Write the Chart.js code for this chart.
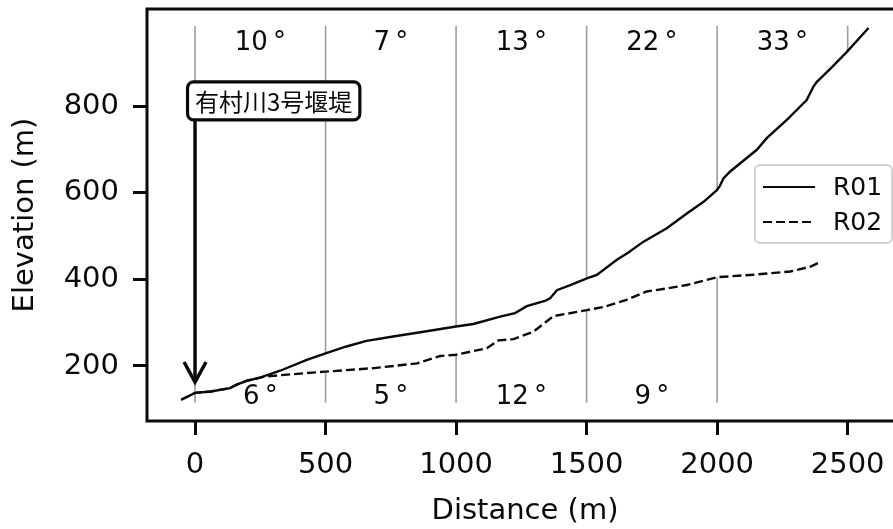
<!DOCTYPE html>
<html>
<head>
<meta charset="utf-8">
<script src="https://cdn.jsdelivr.net/npm/chart.js@4.4.1/dist/chart.umd.min.js"></script>
<style>
  html, body { margin: 0; padding: 0; background: #fff; overflow: hidden; }
  #wrap { width: 915px; height: 529px; }
</style>
</head>
<body>
<div id="wrap"><canvas id="profile" width="915" height="529"></canvas></div>
<script>
// Longitudinal profiles: distance along the channel (m) and elevation (m)
const r01Distance = [-53, 0, 60, 134, 160, 199, 249, 326, 428, 500, 580, 657, 759, 875, 1000, 1066, 1169, 1226, 1271, 1340, 1360, 1386, 1440, 1501, 1539, 1616, 1660, 1718, 1807, 1884, 1948, 1999, 2010, 2024, 2050, 2152, 2190, 2270, 2343, 2369, 2382, 2440, 2497, 2580];
const r01Elevation = [122, 138, 141, 149, 157, 166, 173, 189, 214, 229, 245, 258, 268, 279, 291, 297, 314, 322, 338, 350, 356, 375, 387, 402, 410, 445, 462, 487, 518, 552, 579, 606, 615, 633, 649, 699, 726, 770, 814, 845, 856, 890, 925, 980];

const r02Distance = [-53, 0, 60, 134, 160, 199, 249, 262, 330, 500, 684, 850, 939, 1000, 1118, 1162, 1220, 1296, 1373, 1501, 1564, 1650, 1730, 1807, 1884, 2001, 2126, 2280, 2356, 2392];
const r02Elevation = [122, 138, 141, 149, 157, 166, 173, 175, 179, 187, 195, 206, 223, 226, 241, 259, 262, 279, 315, 329, 336, 352, 372, 379, 387, 405, 410, 418, 429, 439];

// Reach boundaries and the mean gradient (degrees) of each reach
const sectionEdges = [0, 500, 1000, 1500, 2000, 2500];
const r01Slopes = ['10', '7', '13', '22', '33'];
const r02Slopes = ['6', '5', '12', '9'];

const xTicks = [0, 500, 1000, 1500, 2000, 2500];
const yTicks = [200, 400, 600, 800];

const damName = '有村川3号堰堤';
const damPoint = { x: 0, y: 163 };     // arrow tip
const damLabelAt = { x: 0, y: 812 };   // label anchor (left edge, vertical middle)

// vertical extent of the reach guide lines and the elevation of the slope labels
const guideTop = 985, guideBottom = 115;
const upperLabelElev = 944, lowerLabelElev = 128;

const INK = '#0a0a0a';
const FONT = '"DejaVu Sans", sans-serif';

function interp(xs, ys, x) {
  if (x < xs[0] || x > xs[xs.length - 1]) return null;
  for (let i = 1; i < xs.length; i++) {
    if (x <= xs[i]) {
      const t = (x - xs[i - 1]) / (xs[i] - xs[i - 1]);
      return ys[i - 1] + t * (ys[i] - ys[i - 1]);
    }
  }
  return null;
}

const profileDecor = {
  id: 'profileDecor',
  beforeDatasetsDraw(chart) {
    const { ctx, scales: { x, y } } = chart;
    ctx.save();
    ctx.strokeStyle = '#9c9c9c';
    ctx.lineWidth = 1.6;
    sectionEdges.forEach(d => {
      const px = x.getPixelForValue(d);
      const e1 = interp(r01Distance, r01Elevation, d);
      if (e1 !== null) {
        ctx.beginPath();
        ctx.moveTo(px, y.getPixelForValue(guideTop));
        ctx.lineTo(px, y.getPixelForValue(e1));
        ctx.stroke();
      }
      const e2 = interp(r02Distance, r02Elevation, d);
      if (e2 !== null) {
        ctx.beginPath();
        ctx.moveTo(px, y.getPixelForValue(guideBottom));
        ctx.lineTo(px, y.getPixelForValue(e2));
        ctx.stroke();
      }
    });
    ctx.restore();
  },
  afterDatasetsDraw(chart) {
    const { ctx, chartArea: ca, scales: { x, y } } = chart;
    ctx.save();

    // reach gradients
    ctx.fillStyle = INK;
    ctx.font = '26px ' + FONT;
    ctx.textAlign = 'center';
    ctx.textBaseline = 'middle';
    r01Slopes.forEach((s, i) => {
      const mid = (sectionEdges[i] + sectionEdges[i + 1]) / 2;
      ctx.fillText(s + '\u2009°', x.getPixelForValue(mid), y.getPixelForValue(upperLabelElev));
    });
    r02Slopes.forEach((s, i) => {
      const mid = (sectionEdges[i] + sectionEdges[i + 1]) / 2;
      ctx.fillText(s + '\u2009°', x.getPixelForValue(mid), y.getPixelForValue(lowerLabelElev));
    });

    // dam annotation box and arrow
    ctx.font = '24px "Noto Sans CJK JP", sans-serif';
    ctx.textAlign = 'left';
    const tw = ctx.measureText(damName).width;
    const tx = x.getPixelForValue(damLabelAt.x);
    const ty = y.getPixelForValue(damLabelAt.y);
    const bx = tx - 7.5, bw = tw + 15, bh = 38, by = ty - bh / 2;
    const ax = x.getPixelForValue(damPoint.x);
    const tipY = y.getPixelForValue(damPoint.y);

    ctx.strokeStyle = INK;
    ctx.lineWidth = 3.5;
    ctx.beginPath();
    ctx.moveTo(ax, by + bh);
    ctx.lineTo(ax, tipY - 1);
    ctx.stroke();
    ctx.lineJoin = 'miter';
    ctx.beginPath();
    ctx.moveTo(ax - 11, tipY - 20);
    ctx.lineTo(ax, tipY);
    ctx.lineTo(ax + 11, tipY - 20);
    ctx.stroke();

    ctx.beginPath();
    ctx.roundRect(bx, by, bw, bh, 6);
    ctx.fillStyle = '#fff';
    ctx.fill();
    ctx.lineWidth = 3.2;
    ctx.stroke();
    ctx.fillStyle = INK;
    ctx.textBaseline = 'middle';
    ctx.fillText(damName, tx, ty + 1);

    // legend
    const lw = 137, lh = 78;
    const lx = ca.right - 11 - lw, ly = ca.top + 156;
    ctx.beginPath();
    ctx.roundRect(lx, ly, lw, lh, 5);
    ctx.fillStyle = 'rgba(255,255,255,0.85)';
    ctx.fill();
    ctx.strokeStyle = '#d2d2d2';
    ctx.lineWidth = 2;
    ctx.stroke();
    chart.data.datasets.forEach((ds, i) => {
      const cy = ly + 22 + i * 35;
      ctx.strokeStyle = INK;
      ctx.lineWidth = 2;
      ctx.setLineDash(ds.borderDash || []);
      ctx.beginPath();
      ctx.moveTo(lx + 8, cy);
      ctx.lineTo(lx + 60, cy);
      ctx.stroke();
      ctx.setLineDash([]);
      ctx.fillStyle = INK;
      ctx.font = '25px ' + FONT;
      ctx.textAlign = 'left';
      ctx.fillText(ds.label, lx + 78, cy + 1);
    });

    // axes frame
    ctx.strokeStyle = INK;
    ctx.lineWidth = 3;
    ctx.strokeRect(ca.left, ca.top, ca.right - ca.left, ca.bottom - ca.top);
    ctx.restore();
  }
};

new Chart(document.getElementById('profile'), {
  type: 'scatter',
  data: {
    datasets: [
      {
        label: 'R01',
        data: r01Distance.map((d, i) => ({ x: d, y: r01Elevation[i] })),
        showLine: true, borderColor: INK, borderWidth: 2.4, pointRadius: 0, tension: 0
      },
      {
        label: 'R02',
        data: r02Distance.map((d, i) => ({ x: d, y: r02Elevation[i] })),
        showLine: true, borderColor: INK, borderWidth: 2.4, borderDash: [9, 4], pointRadius: 0, tension: 0
      }
    ]
  },
  options: {
    responsive: false,
    animation: false,
    devicePixelRatio: 1,
    layout: { padding: { left: 0, top: 9, right: 12, bottom: 0 } },
    plugins: { legend: { display: false }, tooltip: { enabled: false } },
    scales: {
      x: {
        type: 'linear', min: -184, max: 2712,
        afterBuildTicks: s => { s.ticks = xTicks.map(v => ({ value: v })); },
        afterFit: s => { s.height = 108; s.paddingLeft = 0; s.paddingRight = 0; },
        grid: { drawOnChartArea: false, drawTicks: true, tickLength: 14, tickWidth: 3, tickColor: INK },
        border: { display: false },
        ticks: { font: { family: FONT, size: 29 }, color: INK, padding: 13, maxRotation: 0, autoSkip: false, callback: v => String(v) },
        title: { display: true, text: 'Distance (m)', font: { family: FONT, size: 29 }, color: INK, padding: { top: 0, bottom: 0 } }
      },
      y: {
        type: 'linear', min: 73, max: 1024,
        afterBuildTicks: s => { s.ticks = yTicks.map(v => ({ value: v })); },
        afterFit: s => { s.width = 147; s.paddingTop = 0; s.paddingBottom = 0; },
        grid: { drawOnChartArea: false, drawTicks: true, tickLength: 14, tickWidth: 3, tickColor: INK },
        border: { display: false },
        ticks: { font: { family: FONT, size: 29 }, color: INK, padding: 14, autoSkip: false, callback: v => String(v) },
        title: { display: true, text: 'Elevation (m)', font: { family: FONT, size: 29 }, color: INK, padding: { top: 8, bottom: 0 } }
      }
    }
  },
  plugins: [profileDecor]
});
</script>
</body>
</html>
